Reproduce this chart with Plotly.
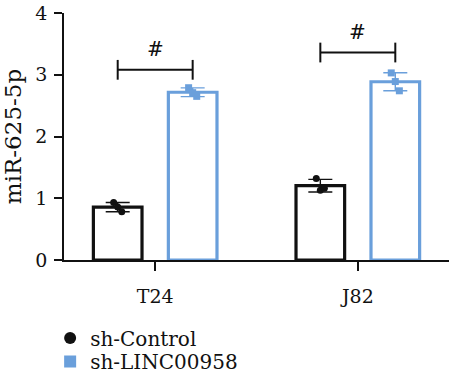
import numpy as np
import plotly.graph_objects as go

categories = ["T24", "J82"]
ctrl_points = [[0.93, 0.86, 0.78], [1.32, 1.13, 1.16]]
linc_points = [[2.79, 2.71, 2.65], [3.03, 2.89, 2.74]]
series_names = ["sh-Control", "sh-LINC00958"]
y_ticks = [0, 1, 2, 3, 4]
sig_label = "#"
sig_heights = [3.08, 3.36]

BLACK = "#111111"
BLUE = "#6a9fdb"
FONT = "DejaVu Serif"

xpos = np.arange(len(categories))
off = 0.185
bw = 0.24
jit = np.array([-0.02, 0.0, 0.02])

fig = go.Figure()

legends = ["legend", "legend2"]
for k, (pts, color, sign, sym, name) in enumerate([
    (ctrl_points, BLACK, -1, "circle", series_names[0]),
    (linc_points, BLUE, 1, "square", series_names[1]),
]):
    arr = np.array(pts)
    means = arr.mean(axis=1)
    sds = arr.std(axis=1, ddof=1)
    fig.add_trace(go.Bar(
        x=xpos + sign * off, y=means, width=bw,
        marker=dict(color="white", line=dict(color=color, width=3.2)),
        error_y=dict(type="data", array=sds, color=color, thickness=1.4, width=12),
        showlegend=False,
    ))
    xs, ys = [], []
    for i in range(len(categories)):
        xs.extend(list(xpos[i] + sign * off + jit))
        ys.extend(pts[i])
    fig.add_trace(go.Scatter(
        x=xs, y=ys, mode="markers", name=name, legend=legends[k],
        marker=dict(color=color, symbol=sym, size=7),
    ))

# significance brackets
for i, h in enumerate(sig_heights):
    x0 = xpos[i] - off
    x1 = xpos[i] + off
    fig.add_shape(type="line", x0=x0, x1=x1, y0=h, y1=h, line=dict(color=BLACK, width=2))
    for xx in (x0, x1):
        fig.add_shape(type="line", x0=xx, x1=xx, y0=h - 0.16, y1=h + 0.16,
                      line=dict(color=BLACK, width=2))
    fig.add_annotation(x=xpos[i], y=h + 0.33, text=sig_label, showarrow=False,
                       font=dict(family=FONT, size=20, color=BLACK))

leg_common = dict(xanchor="left", yanchor="middle", itemsizing="constant",
                  font=dict(family=FONT, size=20, color=BLACK),
                  bgcolor="rgba(0,0,0,0)")

fig.update_layout(
    width=449, height=381,
    margin=dict(l=64, r=0, t=13, b=121),
    plot_bgcolor="white", paper_bgcolor="white",
    barmode="overlay",
    font=dict(family=FONT, size=18, color=BLACK),
    legend=dict(x=-0.036, y=-0.316, **leg_common),
    legend2=dict(x=-0.036, y=-0.413, **leg_common),
)
fig.update_xaxes(
    range=[-0.45, 1.45], tickvals=list(xpos), ticktext=categories,
    showline=True, linecolor=BLACK, linewidth=1.5,
    ticks="outside", ticklen=9, tickwidth=1.5, tickcolor=BLACK,
    showgrid=False, zeroline=False, automargin=False,
    ticklabelstandoff=9,
    tickfont=dict(family=FONT, size=19, color=BLACK),
)
fig.update_yaxes(
    range=[0, 4], tickvals=y_ticks,
    showline=True, linecolor=BLACK, linewidth=1.5,
    ticks="outside", ticklen=8, tickwidth=1.5, tickcolor=BLACK,
    showgrid=False, zeroline=False, automargin=False,
    ticklabelstandoff=3,
    title=dict(text="miR-625-5p", font=dict(family=FONT, size=23, color=BLACK), standoff=9),
    tickfont=dict(family=FONT, size=19, color=BLACK),
)

fig.write_html("out.html", config={"displayModeBar": False},
               post_script="document.body.style.margin='0';")
